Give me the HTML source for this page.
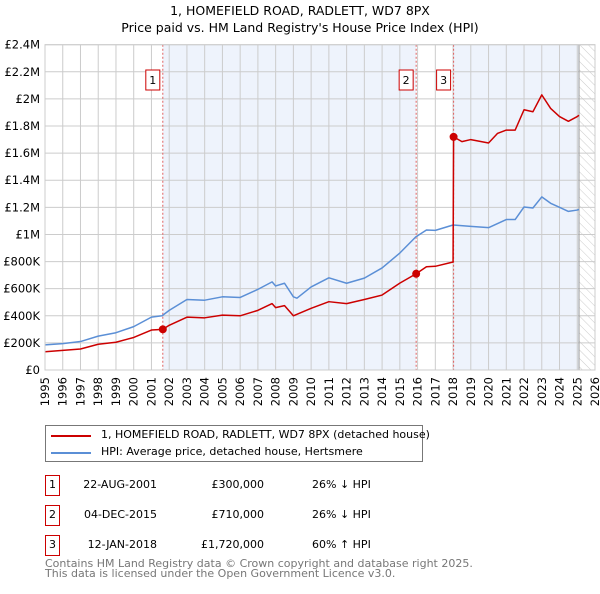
<!DOCTYPE html>
<html><head><meta charset="utf-8"><style>
body{margin:0;background:#fff;font-family:"DejaVu Sans","Liberation Sans",sans-serif;}
#wrap{position:relative;width:600px;height:590px;}
svg text{font-family:"DejaVu Sans","Liberation Sans",sans-serif;}
</style></head><body><div id="wrap">
<svg id="chart" width="600" height="590" xmlns="http://www.w3.org/2000/svg">
<defs><pattern id="hatch" width="6" height="6" patternUnits="userSpaceOnUse" patternTransform="rotate(-45)"><line x1="0" y1="0" x2="0" y2="6" stroke="#ccc" stroke-width="1"/></pattern></defs>
<text x="300" y="15" text-anchor="middle" font-size="12.5">1, HOMEFIELD ROAD, RADLETT, WD7 8PX</text>
<text x="300" y="32" text-anchor="middle" font-size="12.5">Price paid vs. HM Land Registry's House Price Index (HPI)</text>
<g id="plot"></g>
</svg>
<div style="position:absolute;left:45px;top:425px;width:376px;height:35px;border:1px solid #777;font-size:11px;white-space:nowrap;">
 <div style="position:absolute;left:5px;top:9px;width:40px;height:2px;background:#cc0000"></div>
 <div style="position:absolute;left:55px;top:2px;">1, HOMEFIELD ROAD, RADLETT, WD7 8PX (detached house)</div>
 <div style="position:absolute;left:5px;top:26px;width:40px;height:2px;background:#5b8fd6"></div>
 <div style="position:absolute;left:55px;top:19px;">HPI: Average price, detached house, Hertsmere</div>
</div>
<div id="tbl" style="font-size:11px;white-space:nowrap;"></div>
<div style="position:absolute;left:45px;top:559px;font-size:11px;color:#777;line-height:10px;white-space:nowrap;">Contains HM Land Registry data © Crown copyright and database right 2025.<br>This data is licensed under the Open Government Licence v3.0.</div>
</div>
<script>
const hpiYears=[1995,1996,1997,1998,1999,2000,2001,2001.6,2002,2003,2004,2005,2006,2007,2007.8,2008,2008.5,2009,2009.2,2010,2011,2012,2013,2014,2015,2015.9,2016.5,2017,2018,2019,2020,2021,2021.5,2022,2022.5,2023,2023.5,2024,2024.5,2025,2025.1];
const hpiValues=[185,195,210,250,275,320,390,400,440,520,515,540,535,595,650,620,640,540,530,613,680,640,678,753,863,982,1033,1030,1070,1060,1050,1110,1110,1203,1195,1277,1230,1200,1170,1180,1185];
const redYears=[1995,1996,1997,1998,1999,2000,2001,2001.64,2002,2003,2004,2005,2006,2007,2007.8,2008,2008.5,2009,2010,2011,2012,2013,2014,2015,2015.92,2016.5,2017,2018.0,2018.03,2018.5,2019,2020,2020.5,2021,2021.5,2022,2022.5,2023,2023.5,2024,2024.5,2025,2025.1];
const redValues=[135,145,155,190,205,240,295,300,330,390,385,405,400,440,490,460,475,400,455,504,490,520,553,641,710,762,765,797,1720,1685,1700,1675,1745,1770,1770,1920,1905,2030,1930,1870,1835,1870,1880];
const saleYears=[2001.64,2015.92,2018.03];
const saleValues=[300,710,1720];
const saleLabels=["1","2","3"];
const saleDates=["22-AUG-2001","04-DEC-2015","12-JAN-2018"];
const salePrices=["£300,000","£710,000","£1,720,000"];
const saleHpi=["26% ↓ HPI","26% ↓ HPI","60% ↑ HPI"];
const yTicks=[0,200,400,600,800,1000,1200,1400,1600,1800,2000,2200,2400];
const yTickLabels=["£0","£200K","£400K","£600K","£800K","£1M","£1.2M","£1.4M","£1.6M","£1.8M","£2M","£2.2M","£2.4M"];
const xTicks=[1995,1996,1997,1998,1999,2000,2001,2002,2003,2004,2005,2006,2007,2008,2009,2010,2011,2012,2013,2014,2015,2016,2017,2018,2019,2020,2021,2022,2023,2024,2025,2026];
const L=45,R=595,T=44.7,B=370;
const X=y=>L+(y-1995)/(2026-1995)*(R-L);
const Y=v=>B-v/2400*(B-T);
const NS="http://www.w3.org/2000/svg";
const g=document.getElementById('plot');
function mk(t,a){const e=document.createElementNS(NS,t);for(const k in a)e.setAttribute(k,a[k]);g.appendChild(e);return e;}
let e;
e=mk('rect',{x:X(saleYears[0]),y:T,width:X(saleYears[1])-X(saleYears[0]),height:B-T,fill:'#eaf0fb',opacity:0.8});


e=mk('rect',{x:X(saleYears[2]),y:T,width:X(2025.1)-X(saleYears[2]),height:B-T,fill:'#eaf0fb',opacity:0.8});


e=mk('rect',{x:X(2025.1),y:T,width:R-X(2025.1),height:B-T,fill:'url(#hatch)'});


yTicks.forEach((v,i)=>{
 e=mk('line',{x1:L,x2:R,y1:Y(v),y2:Y(v),stroke:'#ccc','stroke-width':1});
 
 
 e=mk('text',{x:L-5,y:Y(v)+4,'text-anchor':'end','font-size':11.5});
 e.textContent=yTickLabels[i];
 
 
});
xTicks.forEach(v=>{
 e=mk('line',{x1:X(v),x2:X(v),y1:T,y2:B,stroke:'#ccc','stroke-width':1});
 
 
 e=mk('text',{x:0,y:0,'text-anchor':'end','font-size':11.5,transform:`translate(${X(v)+4},${B+7}) rotate(-90)`});
 e.textContent=v;
 
 
});
e=mk('line',{x1:X(2025.1),x2:X(2025.1),y1:T,y2:B,stroke:'#999','stroke-width':1});


saleYears.forEach((s,i)=>{
 e=mk('line',{x1:X(s),x2:X(s),y1:T,y2:B,stroke:'#e06060','stroke-width':1,'stroke-dasharray':'2,2'});
 
 
 e=mk('rect',{x:X(s)-17,y:70,width:14,height:20,fill:'#fff',stroke:'#cc0000'});
 
 
 e=mk('text',{x:X(s)-10,y:84,'text-anchor':'middle','font-size':11});
 e.textContent=saleLabels[i];
 
 
});
function line(xs,vs,c,n){const p=mk('polyline',{points:xs.map((x,i)=>X(x)+','+Y(vs[i])).join(' '),fill:'none',stroke:c,'stroke-width':1.5,'stroke-linejoin':'round'});}
line(hpiYears,hpiValues,'#5b8fd6','hpi-line');
line(redYears,redValues,'#cc0000','price-line');
saleYears.forEach((s,i)=>{
 e=mk('circle',{cx:X(s),cy:Y(saleValues[i]),r:4,fill:'#cc0000'});
 
 
});
e=mk('rect',{x:L,y:T,width:R-L,height:B-T,fill:'none',stroke:'#ccc'});


const tbl=document.getElementById('tbl');
saleYears.forEach((s,i)=>{
 const top=475+i*30;
 const r=document.createElement('div');
 
 
 r.style.cssText=`position:absolute;left:0;top:${top}px;width:600px;height:20px;`;
 r.innerHTML=`<div style="position:absolute;left:45px;top:0;width:13px;height:19px;border:1px solid #cc0000;text-align:center;line-height:18px">${saleLabels[i]}</div>
 <div style="position:absolute;left:57px;width:100px;text-align:right;top:3px">${saleDates[i]}</div>
 <div style="position:absolute;left:164px;width:100px;text-align:right;top:3px">${salePrices[i]}</div>
 <div style="position:absolute;left:312px;top:3px">${saleHpi[i]}</div>`;
 tbl.appendChild(r);
});
</script></body></html>
